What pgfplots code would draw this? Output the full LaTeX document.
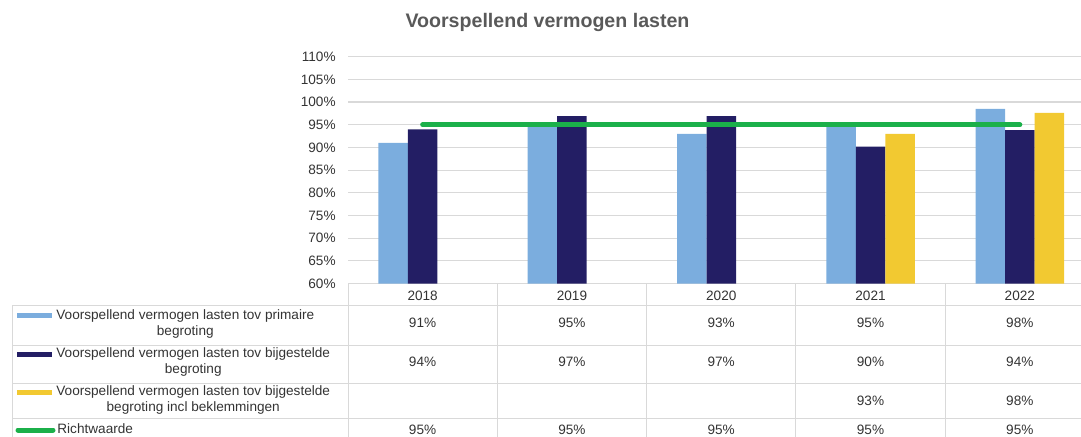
\documentclass[border=0pt]{standalone}
\usepackage{pgfplots}
\pgfplotsset{compat=1.18}
\usepackage{fontspec}
\setmainfont{Liberation Sans}
\definecolor{lblue}{HTML}{7BADDE}
\definecolor{navy}{HTML}{231E64}
\definecolor{gold}{HTML}{F2C931}
\definecolor{rgreen}{HTML}{1BB04A}
\definecolor{gridgray}{HTML}{D9D9D9}
\definecolor{txt}{HTML}{333333}
\definecolor{ttl}{HTML}{595959}
\newcommand{\tf}{\fontsize{6.8}{8}\selectfont}
\begin{document}
\begin{tikzpicture}
\useasboundingbox (0,0) rectangle (540.5pt,-218pt);
\begin{axis}[
  at={(174pt,-141.75pt)}, anchor=south west,
  scale only axis, width=373.25pt, height=113.4pt,
  xmin=-0.5, xmax=4.5, ymin=60, ymax=110,
  ytick={60,65,...,110},
  yticklabel={\pgfmathprintnumber{\tick}\%},
  xtick={0,1,2,3,4},
  xticklabels={2018,2019,2020,2021,2022},
  major tick length=0pt,
  axis line style={draw=none},
  ymajorgrids, grid style={draw=gridgray, line width=0.6pt},
  /pgf/number format/assume math mode=true,
  yticklabel style={font=\tf, text=txt, inner sep=0pt, xshift=-6pt},
  xticklabel style={font=\tf, text=txt, anchor=center, inner sep=0pt, yshift=-6.3pt},
]
\addplot[ybar, bar width=14.75pt, bar shift=-14.75pt, fill=lblue, draw=none]
  coordinates {(0,91.0) (1,95.0) (2,93.0) (3,95.0) (4,98.5)};
\addplot[ybar, bar width=14.75pt, bar shift=0pt, fill=navy, draw=none]
  coordinates {(0,94.0) (1,96.9) (2,96.9) (3,90.2) (4,93.8)};
\addplot[ybar, bar width=14.75pt, bar shift=14.75pt, fill=gold, draw=none]
  coordinates {(3,93.0) (4,97.6)};
\addplot[rgreen, line width=2.5pt, line cap=round, mark=none]
  coordinates {(0,95) (1,95) (2,95) (3,95) (4,95)};
\end{axis}
\begin{scope}[x=0.5pt,y=-0.5pt]
  \node[font=\fontsize{9.8}{11}\selectfont\bfseries, text=ttl] at (547.5,22) {Voorspellend vermogen lasten};
  % table lines
  \foreach \yy in {305,345,383,418} \draw[gridgray, line width=0.5pt] (12,\yy) -- (1100,\yy);
  \foreach \xx in {348,497,646,795,945} \draw[gridgray, line width=0.5pt] (\xx,283.5) -- (\xx,440);
  \draw[gridgray, line width=0.5pt] (12,305) -- (12,440);
  % swatches
  \fill[lblue] (17,313) rectangle (52,318);
  \fill[navy] (17,352) rectangle (52,357);
  \fill[gold] (17,390) rectangle (52,395);
  \draw[rgreen, line width=2.5pt, line cap=round] (18,430) -- (53,430);
  % legend texts
  \node[font=\tf, text=txt, align=center, anchor=west, inner sep=0pt] at (56,324) {Voorspellend vermogen lasten tov primaire\\begroting};
  \node[font=\tf, text=txt, align=center, anchor=west, inner sep=0pt] at (56,362) {Voorspellend vermogen lasten tov bijgestelde\\begroting};
  \node[font=\tf, text=txt, align=center, anchor=west, inner sep=0pt] at (56,400) {Voorspellend vermogen lasten tov bijgestelde\\begroting incl beklemmingen};
  \node[font=\tf, text=txt, anchor=west, inner sep=0pt] at (57,429) {Richtwaarde};
  % values
  \foreach \xx/\a/\b/\c in {422.6/91/94/, 571.9/95/97/, 721.2/93/97/, 870.5/95/90/93, 1019.8/98/94/98} {
    \node[font=\tf, text=txt] at (\xx,323) {\a\%};
    \node[font=\tf, text=txt] at (\xx,362) {\b\%};
    \if\relax\detokenize\expandafter{\c}\relax\else
      \node[font=\tf, text=txt] at (\xx,401) {\c\%};
    \fi
    \node[font=\tf, text=txt, inner sep=0pt] at (\xx,429.5) {95\%};
  }
\end{scope}
\end{tikzpicture}
\end{document}
